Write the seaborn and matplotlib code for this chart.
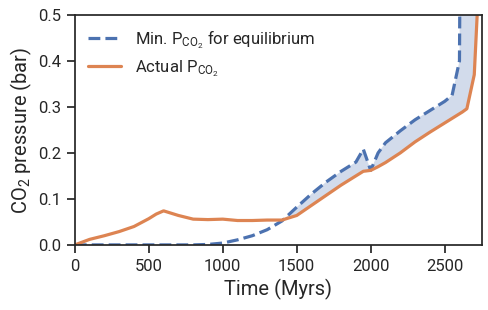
import numpy as np
import pandas as pd
import matplotlib
matplotlib.use("Agg")
import matplotlib.pyplot as plt
import seaborn as sns

# Time grid (Myrs) shared by both curves
time = [0, 100, 200, 300, 400, 500, 550, 600, 700, 800, 900, 1000, 1100, 1200,
        1300, 1400, 1500, 1600, 1700, 1800, 1900, 1950, 2000, 2050, 2100, 2200,
        2300, 2400, 2500, 2550, 2600, 2620, 2650, 2700, 2750]

# Minimum CO2 pressure needed for equilibrium (bar)
min_pco2 = [0.0, 0.0, 0.0, 0.0, 0.0, 0.0, 0.0, 0.0, 0.0, 0.0, 0.001, 0.004, 0.011, 0.020,
            0.033, 0.052, 0.082, 0.111, 0.137, 0.160, 0.180, 0.208, 0.162, 0.200, 0.222, 0.248,
            0.272, 0.292, 0.312, 0.325, 0.400, 1.5, 1.5, 1.5, 1.5]

# Actual CO2 pressure (bar)
actual_pco2 = [0.0, 0.012, 0.020, 0.029, 0.040, 0.057, 0.067, 0.074, 0.064, 0.056, 0.055, 0.056, 0.053, 0.053,
               0.054, 0.054, 0.064, 0.086, 0.108, 0.130, 0.150, 0.160, 0.162, 0.170, 0.179, 0.200,
               0.224, 0.245, 0.265, 0.275, 0.285, 0.289, 0.296, 0.370, 0.700]

df = pd.DataFrame({"time": time, "min": min_pco2, "actual": actual_pco2})

sns.set_theme(style="ticks", rc={"axes.edgecolor": ".15", "axes.linewidth": 1.25})
plt.rcParams["font.family"] = ["Roboto", "DejaVu Sans"]
plt.rcParams["mathtext.fontset"] = "custom"
plt.rcParams["mathtext.rm"] = "Roboto"
plt.rcParams["mathtext.it"] = "Roboto:italic"
plt.rcParams["mathtext.bf"] = "Roboto:bold"

blue, orange = sns.color_palette("deep")[0], sns.color_palette("deep")[1]

fig, ax = plt.subplots(figsize=(4.89, 3.10), dpi=100)

sns.lineplot(data=df, x="time", y="min", ax=ax, color=blue, linestyle="--", linewidth=2.3,
             label=r"Min. $\mathrm{P_{CO_2}}$ for equilibrium")
sns.lineplot(data=df, x="time", y="actual", ax=ax, color=orange, linewidth=2.3,
             label=r"Actual $\mathrm{P_{CO_2}}$")
ax.fill_between(df["time"], df["actual"], df["min"], where=df["min"] > df["actual"],
                interpolate=True, color=blue, alpha=0.25, linewidth=0)

ax.set_xlim(0, 2750)
ax.set_ylim(0, 0.5)
ax.set_xticks([0, 500, 1000, 1500, 2000, 2500])
ax.set_yticks([0.0, 0.1, 0.2, 0.3, 0.4, 0.5])
ax.set_yticklabels(["0.0", "0.1", "0.2", "0.3", "0.4", "0.5"])
ax.tick_params(labelsize=12, length=6, width=1.25, pad=4, colors=".15")
ax.set_xlabel("Time (Myrs)", fontsize=14.5, color=".15", labelpad=4)
ax.set_ylabel(r"CO$_2$ pressure (bar)", fontsize=14.5, color=".15", labelpad=3)
ax.legend(loc="upper left", frameon=False, fontsize=12, handlelength=2.0,
          borderaxespad=0.4, labelspacing=0.45)

fig.subplots_adjust(left=0.153, right=0.985, top=0.952, bottom=0.21)
fig.savefig("out.png", dpi=100)
